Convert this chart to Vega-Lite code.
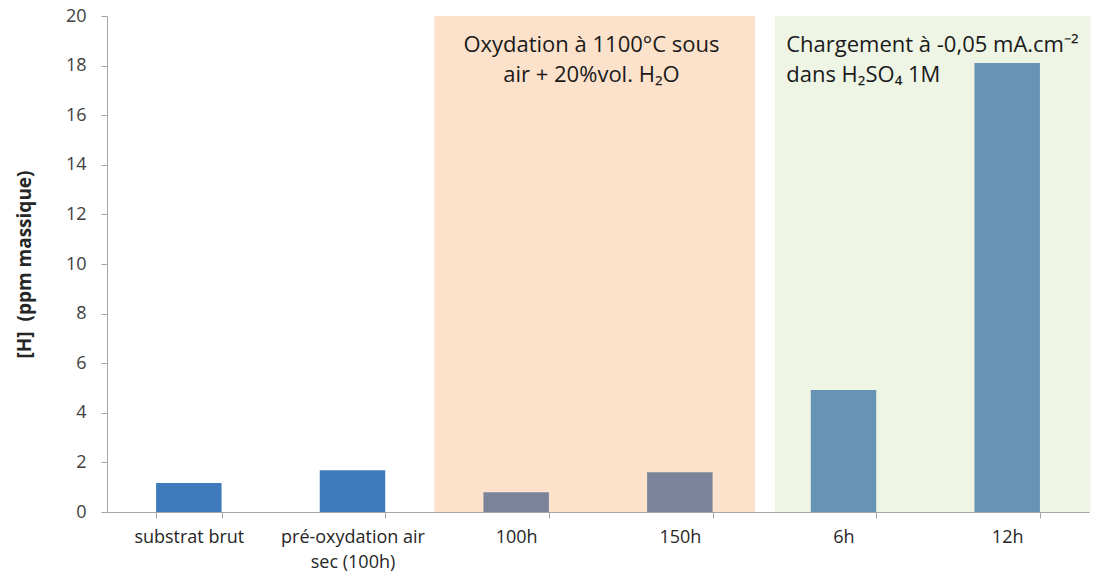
{
  "$schema": "https://vega.github.io/schema/vega-lite/v6.json",
  "autosize": "none",
  "width": 982,
  "height": 496,
  "padding": {"left": 107, "top": 16, "right": 7, "bottom": 66},
  "background": "white",
  "config": {
    "view": {"stroke": null},
    "font": "Open Sans",
    "axis": {"labelFont": "Open Sans", "titleFont": "Open Sans"}
  },
  "layer": [
    {
      "data": {"values": [
        {"groupe": "Oxydation", "debut": 2, "fin": 3.96},
        {"groupe": "Chargement", "debut": 4.08, "fin": 6.01}
      ]},
      "mark": {"type": "rect"},
      "encoding": {
        "x": {"field": "debut", "type": "quantitative", "scale": {"domain": [0, 6], "nice": false, "zero": false}, "axis": null},
        "x2": {"field": "fin"},
        "color": {"field": "groupe", "type": "nominal", "scale": {"domain": ["Oxydation", "Chargement"], "range": ["#FCE2CB", "#EEF5E5"]}, "legend": null}
      }
    },
    {
      "data": {"values": [
        {"categorie": "substrat brut", "serie": "a", "valeur": 1.17},
        {"categorie": "pré-oxydation air sec (100h)", "serie": "a", "valeur": 1.68},
        {"categorie": "100h", "serie": "b", "valeur": 0.8},
        {"categorie": "150h", "serie": "b", "valeur": 1.6},
        {"categorie": "6h", "serie": "c", "valeur": 4.92},
        {"categorie": "12h", "serie": "c", "valeur": 18.1}
      ]},
      "mark": {"type": "bar"},
      "encoding": {
        "x": {
          "field": "categorie", "type": "nominal", "sort": null,
          "scale": {"paddingInner": 0.6, "paddingOuter": 0.3},
          "axis": {
            "title": null, "labelAngle": 0, "labelFontSize": 18, "labelColor": "#262626",
            "labelPadding": 10, "labelLimit": 300, "tickBand": "extent",
            "tickSize": 6, "tickColor": "#A6A6A6", "domainColor": "#A6A6A6",
            "labelExpr": "datum.label == 'pré-oxydation air sec (100h)' ? ['pré-oxydation air', 'sec (100h)'] : datum.label",
            "labelLineHeight": 25
          }
        },
        "y": {
          "field": "valeur", "type": "quantitative",
          "scale": {"domain": [0, 20], "nice": false},
          "axis": {
            "title": "[H]\u00a0 (ppm massique)", "titleFontSize": 19, "titleFontWeight": "bold", "titleColor": "#262626",
            "titlePadding": 31,
            "values": [0, 2, 4, 6, 8, 10, 12, 14, 16, 18, 20],
            "grid": false, "labelFontSize": 18, "labelColor": "#404040", "labelPadding": 15,
            "tickSize": 6, "tickColor": "#A6A6A6", "domainColor": "#A6A6A6"
          }
        },
        "color": {"field": "serie", "type": "nominal", "scale": {"domain": ["a", "b", "c"], "range": ["#3F7ABD", "#7A8399", "#6794B4"]}, "legend": null}
      }
    },
    {
      "data": {"values": [
        {"texte": "Oxydation à 1100°C sous", "px": 2.96, "py": 18.83},
        {"texte": "air + 20%vol. H₂O", "px": 2.96, "py": 17.62}
      ]},
      "mark": {"type": "text", "align": "center", "baseline": "middle", "fontSize": 22, "color": "#1a1a1a"},
      "encoding": {
        "x": {"field": "px", "type": "quantitative", "scale": {"domain": [0, 6], "nice": false, "zero": false}, "axis": null},
        "y": {"field": "py", "type": "quantitative"},
        "text": {"field": "texte"}
      }
    },
    {
      "data": {"values": [
        {"texte": "Chargement à -0,05 mA.cm⁻²", "px": 4.15, "py": 18.83},
        {"texte": "dans H₂SO₄ 1M", "px": 4.15, "py": 17.62}
      ]},
      "mark": {"type": "text", "align": "left", "baseline": "middle", "fontSize": 22, "color": "#1a1a1a"},
      "encoding": {
        "x": {"field": "px", "type": "quantitative", "scale": {"domain": [0, 6], "nice": false, "zero": false}, "axis": null},
        "y": {"field": "py", "type": "quantitative"},
        "text": {"field": "texte"}
      }
    }
  ],
  "resolve": {"scale": {"x": "independent", "color": "independent"}}
}
